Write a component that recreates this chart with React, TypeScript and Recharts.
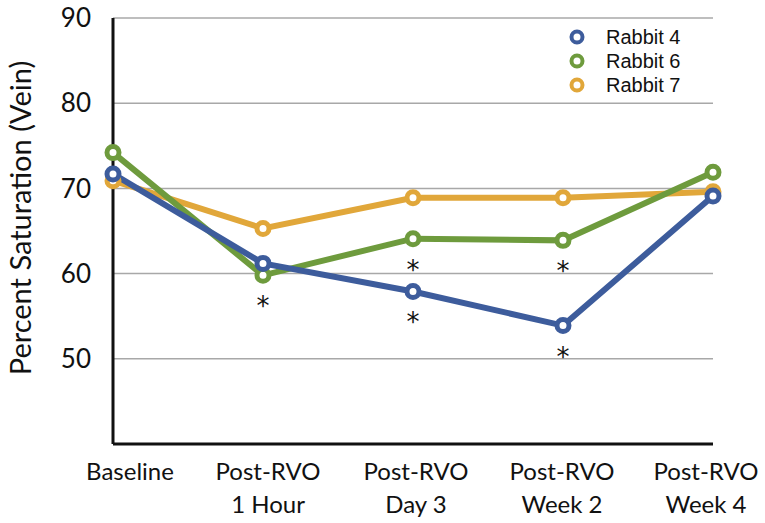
import React from 'react';
import { LineChart, Line, XAxis, YAxis, CartesianGrid, Legend, LabelList } from 'recharts';

const categories = ['Baseline', 'Post-RVO\n1 Hour', 'Post-RVO\nDay 3', 'Post-RVO\nWeek 2', 'Post-RVO\nWeek 4'];
const rabbit4 = [71.7, 61.2, 57.9, 53.9, 69.1];
const rabbit6 = [74.2, 59.8, 64.1, 63.9, 71.9];
const rabbit7 = [70.9, 65.3, 68.9, 68.9, 69.6];
const sig4 = ['', '', '*', '*', ''];
const sig6 = ['', '*', '*', '*', ''];
const yTicks = [50, 60, 70, 80, 90];

const BLUE = '#3D5C9C';
const GREEN = '#6E9B3D';
const ORANGE = '#E1A73A';

const data = categories.map((c, i) => ({
  name: c,
  r4: rabbit4[i],
  r6: rabbit6[i],
  r7: rabbit7[i],
  s4: sig4[i],
  s6: sig6[i],
}));

const series = [
  { key: 'r4', name: 'Rabbit 4', color: BLUE },
  { key: 'r6', name: 'Rabbit 6', color: GREEN },
  { key: 'r7', name: 'Rabbit 7', color: ORANGE },
];

const tickDx = [17, 5, 3, -1, -7];

const XTick = (props: any) => {
  const { x, y, payload, index } = props;
  const lines = String(payload.value).split('\n');
  return (
    <text
      x={x + (tickDx[index] || 0)}
      y={y}
      textAnchor="middle"
      fontFamily="Lato"
      fontSize={24}
      fill="#111"
    >
      {lines.map((l, i) => (
        <tspan key={i} x={x + (tickDx[index] || 0)} y={y + 36 + i * 33}>
          {l}
        </tspan>
      ))}
    </text>
  );
};

const Star = (props: any) => {
  const { x, y, value } = props;
  if (!value) return null;
  return (
    <text x={x} y={y + 40} textAnchor="middle" fontFamily="DejaVu Sans" fontSize={26} fill="#111">
      {value}
    </text>
  );
};

const LegendContent = () => (
  <div style={{ fontFamily: 'Liberation Sans', fontSize: 20, color: '#111', lineHeight: '24px' }}>
    {series.map((s) => (
      <div key={s.key} style={{ display: 'flex', alignItems: 'center', height: 24 }}>
        <svg width={20} height={20} style={{ marginRight: 19 }}>
          <circle cx={10} cy={10} r={5.5} fill="#fff" stroke={s.color} strokeWidth={4} />
        </svg>
        <span>{s.name}</span>
      </div>
    ))}
  </div>
);

const YTitle = () => (
  <text
    x={31}
    y={218}
    transform="rotate(-90 31 218)"
    textAnchor="middle"
    fontFamily="Lato"
    fontSize={29}
    fill="#111"
  >
    Percent Saturation (Vein)
  </text>
);

export default function App() {
  const drawOrder = [series[2], series[1], series[0]];
  return (
    <div style={{ position: 'absolute', left: 0, top: 0, background: '#fff' }}>
      <LineChart width={765} height={523} data={data} margin={{ top: 18, right: 52, bottom: 19, left: 33 }}>
        <CartesianGrid horizontal vertical={false} stroke="#a8a8a8" strokeWidth={1.5} />
        <XAxis
          dataKey="name"
          height={60}
          axisLine={{ stroke: '#111', strokeWidth: 3 }}
          tickLine={false}
          tickSize={0}
          tickMargin={0}
          interval={0}
          tick={<XTick />}
        />
        <YAxis
          width={80}
          domain={[40, 90]}
          ticks={yTicks}
          axisLine={{ stroke: '#111', strokeWidth: 3 }}
          tickLine={false}
          tickSize={0}
          tickMargin={22}
          tick={{ fontFamily: 'Lato', fontSize: 26, fill: '#111' }}
          label={{ content: () => <YTitle /> }}
        />
        <Legend
          layout="vertical"
          align="center"
          verticalAlign="middle"
          wrapperStyle={{ left: 567, top: 25, width: 160 }}
          content={<LegendContent />}
        />
        {drawOrder.map((s) => (
          <Line
            key={s.key}
            type="linear"
            dataKey={s.key}
            name={s.name}
            stroke={s.color}
            strokeWidth={6}
            dot={{ r: 6, fill: '#fff', stroke: s.color, strokeWidth: 5 }}
            activeDot={false}
            isAnimationActive={false}
          >
            {s.key === 'r4' && <LabelList dataKey="s4" content={<Star />} />}
            {s.key === 'r6' && <LabelList dataKey="s6" content={<Star />} />}
          </Line>
        ))}
      </LineChart>
    </div>
  );
}
